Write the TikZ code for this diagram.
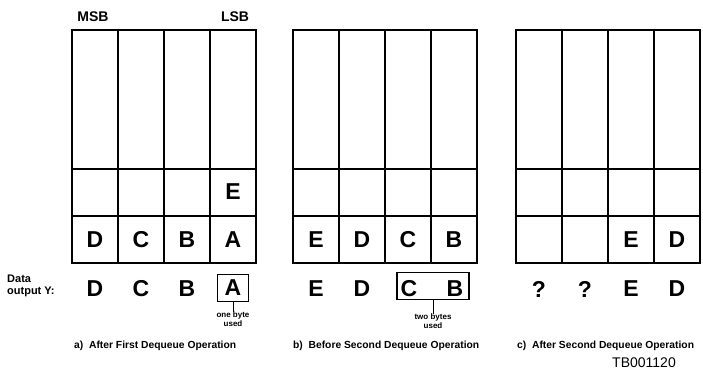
\documentclass[tikz,border=0pt]{standalone}
\usepackage{fontspec}
\setmainfont{Liberation Sans}

\begin{document}
\begin{tikzpicture}[x=1pt,y=-1pt,
  grid/.style={line width=1.9pt,line cap=rect},
  byte/.style={font=\fontsize{23}{23}\selectfont\bfseries,inner sep=0pt},
  outbox/.style={draw,line width=1.4pt,minimum height=27pt,inner sep=0pt},
  note/.style={font=\fontsize{8}{8.5}\selectfont\bfseries,align=center,inner sep=0pt},
  caption/.style={font=\fontsize{10.3}{11}\selectfont\bfseries,anchor=west,inner sep=0pt}]
  \useasboundingbox (0,0) rectangle (703,377);
  % the three snapshots of the queue
  \foreach \x in {72,293,516}{
    \draw[grid] (\x,30) rectangle ++(184,233);
    \foreach \c in {1,2,3} \draw[grid] (\x+46*\c,30) -- (\x+46*\c,263);
    \draw[grid] (\x,169) -- ++(184,0);
    \draw[grid] (\x,216) -- ++(184,0);
  }
  \node[font=\fontsize{14}{14}\selectfont\bfseries] (msb) at (93,17) {MSB};
  \node[font=\fontsize{14}{14}\selectfont\bfseries] (lsb) at (235,17) {LSB};
  % queue contents
  \node[byte] (qa-e) at (233,192) {E};
  \foreach \l [count=\i from 0] in {D,C,B,A} \node[byte] (qa\i) at (95+46*\i,240) {\l};
  \foreach \l [count=\i from 0] in {E,D,C,B} \node[byte] (qb\i) at (316+46*\i,240) {\l};
  \node[byte] (qc2) at (631,240) {E};
  \node[byte] (qc3) at (677,240) {D};
  % data output
  \node[font=\fontsize{11}{11.5}\selectfont\bfseries,align=left,anchor=west,inner sep=0pt] (dataout) at (7,286) {Data\\output Y:};
  \foreach \l [count=\i from 0] in {D,C,B} \node[byte] (ya\i) at (95+46*\i,289) {\l};
  \node[byte,outbox,minimum width=31pt] (ya3) at (233,288) {A};
  \node[byte] (yb0) at (316,289) {E};
  \node[byte] (yb1) at (362,289) {D};
  \node[outbox,minimum width=72pt] (twobox) at (433,286) {};
  \node[byte] (yb2) at (409,288.5) {C};
  \node[byte] (yb3) at (455,288.5) {B};
  \foreach \l [count=\i from 0] in {?,?,E,D} \node[byte] (yc\i) at (539+46*\i,289) {\l};
  \node[note] (onenote) at (233,319) {one byte\\used};
  \node[note] (twonote) at (433,321) {two bytes\\used};
  \draw[line width=0.9pt] (ya3.south) -- (onenote.north);
  \draw[line width=0.9pt] (twobox.south) -- (twonote.north);
  % captions
  \node[caption] (capa) at (74,346) {a)\ \ After First Dequeue Operation};
  \node[caption] (capb) at (293,346) {b)\ \ Before Second Dequeue Operation};
  \node[caption] (capc) at (517,346) {c)\ \ After Second Dequeue Operation};
  \node[font=\fontsize{14}{14}\selectfont] (tb) at (644,363) {TB001120};
\end{tikzpicture}
\end{document}
